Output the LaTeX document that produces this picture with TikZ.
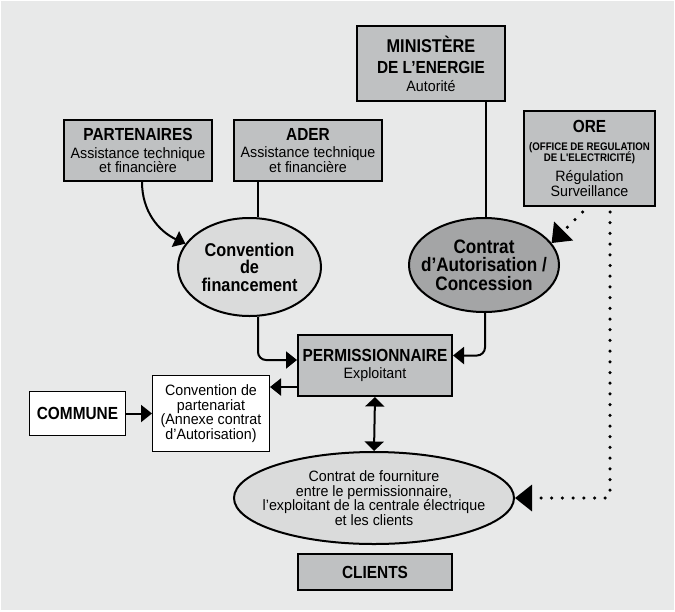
\documentclass[tikz,border=0pt]{standalone}
\usepackage{fontspec}
\setmainfont{Liberation Sans}[FakeStretch=0.95]
\newfontfamily\gras{Liberation Sans}[FakeStretch=0.88]
\usetikzlibrary{shapes.geometric,arrows.meta}
\definecolor{fondgris}{HTML}{E8E9E9}
\definecolor{boitegris}{HTML}{BFC1C2}
\definecolor{ovalclair}{HTML}{DADBDB}
\definecolor{ovalfonce}{HTML}{A4A5A6}
\newcommand\titre{\gras\bfseries\fontsize{17.5}{18}\selectfont}
\newcommand\texte{\fontsize{15}{14.5}\selectfont}
\newcommand\petit{\gras\bfseries\fontsize{11}{10}\selectfont}

\begin{document}
\begin{tikzpicture}[x=1pt, y=-1pt,
    boite/.style={draw, rectangle, line width=2pt, fill=boitegris, align=center, font=\texte, inner sep=1pt},
    blanc/.style={draw, rectangle, line width=1pt, fill=white, align=center, font=\texte, inner sep=1pt},
    ovale/.style={draw, ellipse, line width=2pt, align=center, inner xsep=-30pt, inner ysep=0pt},
    fleche/.style={line width=2pt, -{Triangle[length=11pt,width=17pt]}},
    pointille/.style={line width=3.5pt, line cap=round, dash pattern=on 0pt off 10.7pt, -{Triangle[length=17pt,width=26pt]}}]

        \fill[fondgris] (1, 1) rectangle (674, 610);
        \useasboundingbox (0, 0) rectangle (675, 611);

        \node[name=ministere, boite, minimum width=148pt, minimum height=75pt] at (431, 63.5)
            {{\titre\fontsize{18.5}{18}\selectfont MINISTÈRE}\\[6.5pt]{\titre DE L’ENERGIE}\\[3.5pt]Autorité};
        \node[name=ore, boite, minimum width=131pt, minimum height=95pt] at (589.5, 158.5)
            {{\titre ORE}\\[3.5pt]{\petit (OFFICE DE REGULATION}\\[-3.5pt]{\petit DE L'ELECTRICITÉ)}\\[5.5pt]Régulation\\[0.5pt]Surveillance};
        \node[name=partenaires, boite, minimum width=148pt, minimum height=61pt] at (138, 150.5)
            {{\titre PARTENAIRES}\\[3pt]Assistance technique\\et financière};
        \node[name=ader, boite, minimum width=148pt, minimum height=61pt] at (308, 150.5)
            {{\titre ADER}\\[3pt]Assistance technique\\et financière};

        \node[name=convfin, ovale, fill=ovalclair, minimum width=143pt, minimum height=98pt,
            font=\gras\bfseries\fontsize{18.5}{17.5}\selectfont] at (249.5, 267) {Convention\\de\\financement};
        \node[name=contrat, ovale, fill=ovalfonce, minimum width=150pt, minimum height=94pt,
            font=\gras\bfseries\fontsize{19.5}{18.5}\selectfont] at (484, 265) {Contrat\\d’Autorisation /\\Concession};

        \node[name=perm, boite, minimum width=154pt, minimum height=61pt] at (375, 365.5)
            {{\titre PERMISSIONNAIRE}\\[3pt]Exploitant};
        \node[name=partenariat, blanc, minimum width=117pt, minimum height=76pt] at (211, 413.5)
            {Convention de\\partenariat\\(Annexe contrat\\d’Autorisation)};
        \node[name=commune, blanc, minimum width=96pt, minimum height=44pt, font=\titre] at (77.5, 413.5) {COMMUNE};

        \node[name=fourniture, ovale, fill=ovalclair, minimum width=280pt, minimum height=92pt, font=\texte] at (374, 498)
            {Contrat de fourniture\\entre le permissionnaire,\\l’exploitant de la centrale électrique\\et les clients};
        \node[name=clients, boite, minimum width=154pt, minimum height=36pt, font=\titre] at (375, 572) {CLIENTS};

        \draw[fleche] ([xshift=4pt]partenaires.south) to[out=-90, in=155] (convfin.160);
        \draw[line width=2pt] ([xshift=8.5pt]convfin.north) -- ([xshift=8.5pt]convfin.north |- ader.south);
        \draw[line width=2pt] ([xshift=2pt]contrat.north) -- ([xshift=2pt]contrat.north |- ministere.south);
        \draw[pointille] ([xshift=-7pt, yshift=-5pt]ore.south) -- (contrat.18);
        \draw[pointille, rounded corners=4pt] ([xshift=20.5pt, yshift=-5pt]ore.south) |- (fourniture.east);

        \draw[fleche, rounded corners=8pt] ([xshift=8.5pt]convfin.south) |- ([yshift=5.5pt]perm.west);
        \draw[fleche, rounded corners=8pt] ([xshift=1pt]contrat.south) |- ([yshift=10pt]perm.east);
        \draw[fleche] ([yshift=-21.5pt]perm.west) -- ([yshift=-21.5pt]perm.west -| partenariat.east);
        \draw[fleche] (commune.east) -- (partenariat.west);
        \draw[line width=2pt, {Triangle[length=9.5pt,width=19pt]}-{Triangle[length=9.5pt,width=19pt]}] (perm.south) -- (fourniture.north);
    \end{tikzpicture}
\end{document}
